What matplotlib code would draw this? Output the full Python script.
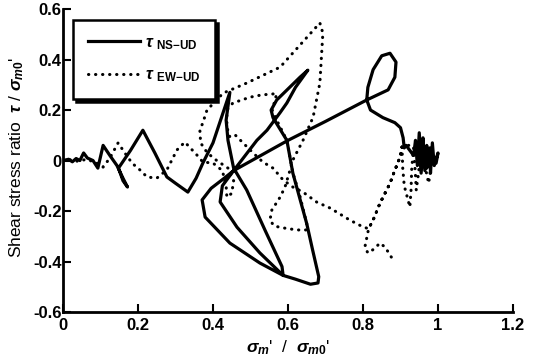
import matplotlib
matplotlib.use("Agg")
import matplotlib.pyplot as plt

plt.rcParams["font.family"] = "Liberation Sans"
plt.rcParams["font.weight"] = "bold"
plt.rcParams["mathtext.fontset"] = "custom"
plt.rcParams["mathtext.rm"] = "Liberation Sans:bold"
plt.rcParams["mathtext.bf"] = "Liberation Sans:bold"
plt.rcParams["mathtext.it"] = "Liberation Sans:italic:bold"
plt.rcParams["mathtext.sf"] = "Liberation Sans:bold"

# effective mean stress ratio / shear stress ratio, NS-UD component
sigma_ns = [0.0, 0.015, 0.025, 0.035, 0.045, 0.055, 0.065, 0.08, 0.093, 0.107,
            0.125, 0.144, 0.16, 0.172, 0.16, 0.148, 0.18, 0.213, 0.245, 0.277,
            0.30, 0.333, 0.355, 0.373, 0.40, 0.418, 0.445, 0.435, 0.44, 0.455,
            0.49, 0.54, 0.584, 0.587, 0.62, 0.66, 0.68, 0.682, 0.665, 0.65,
            0.613, 0.597, 0.56, 0.555, 0.57, 0.632, 0.653, 0.62, 0.597, 0.579,
            0.544, 0.517, 0.455, 0.43, 0.395, 0.371, 0.379, 0.445, 0.525, 0.587,
            0.525, 0.464, 0.419, 0.425, 0.455, 0.60, 0.70, 0.81, 0.867, 0.885,
            0.888, 0.872, 0.85, 0.827, 0.813, 0.81, 0.82, 0.853, 0.885, 0.9,
            0.907, 0.91, 0.915, 0.925, 0.935, 0.94, 0.945, 0.95, 0.955, 0.96,
            0.965, 0.97, 0.972, 0.978, 0.98, 0.985, 0.99, 1.0, 0.995, 0.985,
            0.97, 0.96, 0.955, 0.95, 0.962, 0.975]
tau_ns = [0.0, 0.005, -0.005, 0.008, 0.0, 0.03, 0.01, 0.0, -0.03, 0.06,
          0.02, -0.02, -0.07, -0.105, -0.08, -0.03, 0.04, 0.12, 0.03, -0.065,
          -0.09, -0.125, -0.07, -0.01, 0.07, 0.15, 0.27, 0.16, 0.08, -0.03,
          -0.117, -0.28, -0.42, -0.455, -0.47, -0.49, -0.485, -0.46, -0.35, -0.25,
          -0.05, 0.08, 0.17, 0.2, 0.24, 0.33, 0.358, 0.29, 0.228, 0.19,
          0.12, 0.08, -0.04, -0.07, -0.11, -0.156, -0.224, -0.327, -0.406, -0.455,
          -0.366, -0.264, -0.164, -0.1, -0.04, 0.08, 0.155, 0.24, 0.28, 0.33,
          0.39, 0.425, 0.415, 0.36, 0.29, 0.24, 0.2, 0.17, 0.15, 0.13,
          0.09, 0.05, 0.06, 0.04, 0.02, 0.08, -0.02, 0.11, 0.0, 0.09,
          -0.04, 0.06, -0.02, 0.05, -0.05, 0.07, -0.02, 0.03, -0.01, 0.02,
          -0.03, 0.04, -0.05, 0.05, -0.02, 0.01]

# EW-UD component
sigma_ew = [0.0, 0.02, 0.04, 0.06, 0.072, 0.09, 0.107, 0.125, 0.147, 0.165,
            0.184, 0.205, 0.224, 0.25, 0.277, 0.304, 0.325, 0.357, 0.373, 0.40,
            0.425, 0.435, 0.437, 0.45, 0.455, 0.44, 0.41, 0.385, 0.367, 0.365,
            0.373, 0.384, 0.427, 0.49, 0.579, 0.685, 0.693, 0.685, 0.667, 0.64,
            0.613, 0.605, 0.592, 0.579, 0.557, 0.552, 0.562, 0.579, 0.624, 0.65,
            0.65, 0.63, 0.613, 0.597, 0.57, 0.558, 0.57, 0.53, 0.499, 0.453,
            0.437, 0.437, 0.445, 0.46, 0.48, 0.507, 0.533, 0.56, 0.587, 0.613,
            0.64, 0.677, 0.712, 0.765, 0.8, 0.815, 0.827, 0.845, 0.872, 0.885,
            0.899, 0.904, 0.906, 0.91, 0.92, 0.925, 0.928, 0.93, 0.935, 0.94,
            0.942, 0.948, 0.955, 0.965, 0.975, 0.98, 0.975, 0.95, 0.92, 0.904,
            0.899, 0.885, 0.872, 0.845, 0.827, 0.815, 0.805, 0.813, 0.83, 0.845,
            0.859, 0.877]
tau_ew = [0.0, 0.003, -0.003, 0.004, 0.0, -0.01, -0.026, 0.01, 0.07, 0.03,
          -0.01, -0.037, -0.065, -0.07, -0.037, 0.042, 0.073, 0.022, -0.006, -0.01,
          -0.04, -0.1, -0.145, -0.13, -0.08, -0.03, 0.0, 0.03, 0.07, 0.12,
          0.15, 0.2, 0.267, 0.307, 0.37, 0.545, 0.505, 0.307, 0.172, 0.08,
          0.002, -0.04, -0.105, -0.145, -0.196, -0.235, -0.258, -0.265, -0.275, -0.275,
          -0.25, -0.13, -0.05, 0.08, 0.16, 0.2, 0.265, 0.26, 0.251, 0.228,
          0.2, 0.133, 0.093, 0.1, 0.07, 0.03, -0.006, -0.03, -0.077, -0.105,
          -0.125, -0.165, -0.188, -0.236, -0.263, -0.27, -0.236, -0.17, -0.09, -0.038,
          0.014, 0.054, -0.03, -0.1, -0.156, -0.184, -0.12, -0.03, 0.05, -0.06,
          -0.117, -0.05, 0.04, -0.02, -0.09, -0.04, 0.02, 0.06, 0.06, 0.054,
          0.014, -0.038, -0.09, -0.17, -0.236, -0.27, -0.343, -0.366, -0.35, -0.327,
          -0.343, -0.386]

fig = plt.figure(figsize=(5.37, 3.63), dpi=100)
ax = fig.add_axes([0.1173, 0.1405, 0.838, 0.8345])

ax.plot(sigma_ns, tau_ns, color="black", lw=2.3, solid_joinstyle="round",
        label=r"$\tau$ $_{\mathrm{NS{-}UD}}$")
ax.plot(sigma_ew, tau_ew, color="black", lw=2.2, linestyle=(0, (0.1, 2.2)),
        dash_capstyle="round", label=r"$\tau$ $_{\mathrm{EW{-}UD}}$")

ax.set_xlim(0, 1.2)
ax.set_ylim(-0.6, 0.6)
ax.set_xticks([0, 0.2, 0.4, 0.6, 0.8, 1.0, 1.2])
ax.set_xticklabels(["0", "0.2", "0.4", "0.6", "0.8", "1", "1.2"])
ax.set_yticks([-0.6, -0.4, -0.2, 0, 0.2, 0.4, 0.6])
ax.set_yticklabels(["-0.6", "-0.4", "-0.2", "0", "0.2", "0.4", "0.6"])
ax.tick_params(direction="in", length=6, width=1.5, labelsize=12)
ax.tick_params(axis="y", pad=1)
ax.tick_params(axis="x", pad=4)
for side in ["top", "right"]:
    ax.spines[side].set_visible(False)
for side in ["left", "bottom"]:
    ax.spines[side].set_linewidth(2)

ax.set_xlabel(r"$\sigma_{m}$'  /  $\sigma_{m0}$'", fontsize=12.5, labelpad=4)
ax.set_ylabel(r"Shear stress ratio  $\tau$ / $\sigma_{m0}$'", fontsize=12.5)
ax.yaxis.set_label_coords(-0.083, 0.51)

leg = ax.legend(loc="upper left", bbox_to_anchor=(73 / 537, 1 - 20 / 363),
                bbox_transform=fig.transFigure, borderaxespad=0, fancybox=False,
                shadow={"color": "black", "alpha": 1}, handlelength=3.1,
                fontsize=12, labelspacing=0.95, borderpad=0.9, handletextpad=0.3)
leg.get_frame().set_edgecolor("black")
leg.get_frame().set_linewidth(1.8)

fig.savefig("out.png", dpi=100)
